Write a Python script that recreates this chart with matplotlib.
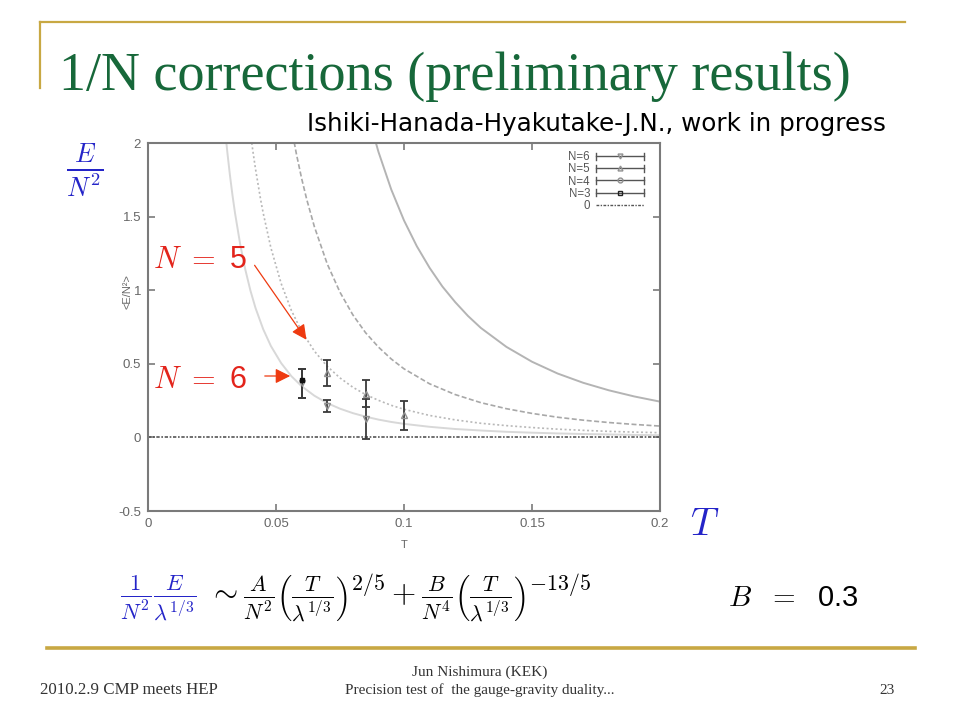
import matplotlib
matplotlib.use("Agg")
import matplotlib.pyplot as plt
from matplotlib.lines import Line2D
from matplotlib.legend_handler import HandlerBase

plt.rcParams['font.family'] = ['Liberation Sans', 'DejaVu Sans']
plt.rcParams['mathtext.fontset'] = 'cm'

# ---------------- data ----------------
# fit curves  <E/N^2> vs T
T_n6 = [0.030, 0.031, 0.032, 0.033, 0.034, 0.036, 0.038, 0.040, 0.042, 0.045, 0.048, 0.052,
        0.056, 0.060, 0.065, 0.070, 0.075, 0.080, 0.085, 0.090, 0.095, 0.100, 0.110, 0.120,
        0.130, 0.140, 0.150, 0.160, 0.170, 0.180, 0.190, 0.200]
E_n6 = [2.108, 1.936, 1.782, 1.645, 1.523, 1.313, 1.141, 0.998, 0.879, 0.735, 0.621, 0.505,
        0.416, 0.348, 0.283, 0.233, 0.195, 0.165, 0.141, 0.121, 0.105, 0.092, 0.072, 0.057,
        0.047, 0.038, 0.032, 0.027, 0.023, 0.020, 0.017, 0.015]

T_n5 = [0.038, 0.040, 0.041, 0.042, 0.044, 0.045, 0.048, 0.052, 0.056, 0.060, 0.065, 0.070,
        0.075, 0.080, 0.085, 0.090, 0.095, 0.100, 0.110, 0.120, 0.130, 0.140, 0.150, 0.160,
        0.170, 0.180, 0.190, 0.200]
E_n5 = [2.365, 2.069, 1.941, 1.823, 1.615, 1.524, 1.288, 1.046, 0.863, 0.721, 0.586, 0.483,
        0.404, 0.341, 0.291, 0.252, 0.218, 0.191, 0.149, 0.119, 0.096, 0.080, 0.067, 0.056,
        0.048, 0.041, 0.036, 0.032]

T_n4 = [0.056, 0.058, 0.060, 0.062, 0.065, 0.070, 0.075, 0.080, 0.085, 0.090, 0.095, 0.100,
        0.110, 0.120, 0.130, 0.140, 0.150, 0.160, 0.170, 0.180, 0.190, 0.200]
E_n4 = [2.106, 1.923, 1.760, 1.617, 1.431, 1.179, 0.986, 0.833, 0.711, 0.614, 0.533, 0.466,
        0.364, 0.291, 0.236, 0.195, 0.163, 0.137, 0.117, 0.101, 0.088, 0.077]

T_n3 = [0.085, 0.090, 0.095, 0.100, 0.105, 0.110, 0.115, 0.120, 0.125, 0.130, 0.140, 0.150,
        0.160, 0.170, 0.180, 0.190, 0.200]
E_n3 = [2.248, 1.941, 1.685, 1.474, 1.299, 1.152, 1.025, 0.919, 0.825, 0.744, 0.615, 0.514,
        0.434, 0.371, 0.320, 0.278, 0.243]

T_zero = [0.0, 0.2]
E_zero = [0.0, 0.0]

# Monte Carlo data points
pts_n6_T = [0.060, 0.070, 0.085]
pts_n6_E = [0.367, 0.213, 0.125]
pts_n6_err = [0.100, 0.041, 0.134]

pts_n5_T = [0.070, 0.085, 0.100]
pts_n5_E = [0.437, 0.297, 0.150]
pts_n5_err = [0.090, 0.093, 0.100]

pts_n3_T = [0.060]
pts_n3_E = [0.392]
pts_n3_err_lo = [0.125]
pts_n3_err_hi = [0.075]

x_ticks = [0, 0.05, 0.1, 0.15, 0.2]
x_ticklabels = ['0', '0.05', '0.1', '0.15', '0.2']
y_ticks = [-0.5, 0, 0.5, 1, 1.5, 2]
y_ticklabels = ['-0.5', '0', '0.5', '1', '1.5', '2']

# ---------------- figure ----------------
W, H = 960, 720
fig = plt.figure(figsize=(9.6, 7.2), dpi=100)
fig.patch.set_facecolor('white')

def fx(x):
    return x / W

def fy(y):
    return 1 - y / H

# slide decoration
gold = '#c8a843'
fig.add_artist(Line2D([fx(40), fx(905)], [fy(22), fy(22)], color=gold, lw=1.6))
fig.add_artist(Line2D([fx(40), fx(40)], [fy(22), fy(88)], color=gold, lw=1.6))
fig.add_artist(Line2D([fx(47), fx(915)], [fy(648), fy(648)], color=gold, lw=2.6))

fig.text(fx(59), fy(90), '1/N corrections (preliminary results)', family='Liberation Serif',
         fontsize=39, color='#17683a', va='baseline', ha='left')
fig.text(fx(886), fy(124), 'Ishiki-Hanada-Hyakutake-J.N., work in progress',
         family='DejaVu Sans', fontsize=17.7, color='black', va='center', ha='right')

# footer
fig.text(fx(40), fy(690), '2010.2.9 CMP meets HEP', family='Liberation Serif', fontsize=12.2,
         color='#333333', va='center', ha='left')
fig.text(fx(480), fy(672), 'Jun Nishimura (KEK)', family='Liberation Serif', fontsize=11,
         color='#333333', va='center', ha='center')
fig.text(fx(480), fy(690), 'Precision test of  the gauge-gravity duality...', family='Liberation Serif',
         fontsize=11, color='#333333', va='center', ha='center')
fig.text(fx(895), fy(690), '23', family='Liberation Serif', fontsize=11,
         color='#333333', va='center', ha='right')

# ---------------- axes ----------------
ax = fig.add_axes([fx(148), fy(511), 512 / W, 368 / H])
ax.set_xlim(0, 0.2)
ax.set_ylim(-0.5, 2)

ax.plot(T_n3, E_n3, color='#b4b4b4', lw=1.4, ls='-')
ax.plot(T_n4, E_n4, color='#a8a8a8', lw=1.2, ls=(0, (3, 1.5)))
ax.plot(T_n5, E_n5, color='#b8b8b8', lw=1.2, ls=(0, (1.2, 1.5)))
ax.plot(T_n6, E_n6, color='#d8d8d8', lw=1.4, ls='-')
ax.plot(T_zero, E_zero, color='#555555', lw=1.2, ls=(0, (2, 1, 1, 1)))

ebkw = dict(ecolor='#3a3a3a', elinewidth=1.3, capsize=3, capthick=1.3, ls='none')
ax.errorbar(pts_n6_T, pts_n6_E, yerr=pts_n6_err, marker='v', ms=4.5, mfc='none',
            mec='#909090', **ebkw)
ax.errorbar(pts_n5_T, pts_n5_E, yerr=pts_n5_err, marker='^', ms=4.5, mfc='none',
            mec='#909090', **ebkw)
ax.errorbar(pts_n3_T, pts_n3_E, yerr=[pts_n3_err_lo, pts_n3_err_hi], marker='s', ms=3,
            mfc='#111111', mec='#111111', **ebkw)

for s in ax.spines.values():
    s.set_color('#7a7a7a')
    s.set_linewidth(1.5)
ax.set_xticks(x_ticks)
ax.set_xticklabels(x_ticklabels)
ax.set_yticks(y_ticks)
ax.set_yticklabels(y_ticklabels)
ax.tick_params(direction='in', top=True, right=True, length=5, width=1.2, color='#7a7a7a',
               labelsize=9.5, labelcolor='#666666', pad=5)
ax.set_xlabel('T', fontsize=8, color='#666666')
ax.set_ylabel('<E/N²>', fontsize=8, color='#666666')
ax.xaxis.set_label_coords(0.5, -0.079)
ax.yaxis.set_label_coords(-0.031, 0.595)


class HandlerGP(HandlerBase):
    def create_artists(self, legend, orig_handle, xdescent, ydescent, width, height,
                       fontsize, trans):
        y = height / 2.0 - ydescent
        x0, x1 = -xdescent, width - xdescent
        c = '#555555'
        arts = [Line2D([x0, x1], [y, y], color=c, lw=1.0),
                Line2D([x0, x0], [y - 2.5, y + 2.5], color=c, lw=1.0),
                Line2D([x1, x1], [y - 2.5, y + 2.5], color=c, lw=1.0),
                Line2D([(x0 + x1) / 2], [y], marker=orig_handle.get_marker(), ms=orig_handle.get_markersize(),
                       mfc=orig_handle.get_markerfacecolor(), mec=orig_handle.get_markeredgecolor(),
                       ls='none')]
        for a in arts:
            a.set_transform(trans)
        return arts


h6 = Line2D([], [], marker='v', ms=3.5, mfc='none', mec='#909090')
h5 = Line2D([], [], marker='^', ms=3.5, mfc='none', mec='#909090')
h4 = Line2D([], [], marker='o', ms=3.5, mfc='none', mec='#909090')
h3 = Line2D([], [], marker='s', ms=3.5, mfc='none', mec='#222222')
h0 = Line2D([], [], color='#555555', lw=1.0, ls=(0, (2, 1, 1, 1)))
hmap = {h6: HandlerGP(), h5: HandlerGP(), h4: HandlerGP(), h3: HandlerGP()}
leg = ax.legend([h6, h5, h4, h3, h0], ['N=6', 'N=5', 'N=4', 'N=3', '0'], handler_map=hmap,
                loc='upper right', frameon=False, fontsize=8.3, markerfirst=False,
                handlelength=4.2, labelspacing=0.02, borderaxespad=0.3, handletextpad=0.5,
                bbox_to_anchor=(0.985, 1.0))
for t in leg.get_texts():
    t.set_color('#555555')

# ---------------- annotations ----------------
fig.text(fx(85), fy(170), r'$\frac{E}{N^2}$', fontsize=27, color='#2424c8', ha='center', va='center')
red = '#e3241b'
fig.text(fx(153), fy(260), r'$N\ =\ $5', fontsize=22, color=red, ha='left', va='center')
fig.text(fx(153), fy(380), r'$N\ =\ $6', fontsize=22, color=red, ha='left', va='center')
ax.annotate('', xy=(308, H - 342), xytext=(253, H - 263), xycoords='figure pixels',
            textcoords='figure pixels',
            arrowprops=dict(arrowstyle='-|>,head_length=0.9,head_width=0.45', color='#ee3a10', lw=0.9))
ax.annotate('', xy=(293, H - 376), xytext=(262, H - 376), xycoords='figure pixels',
            textcoords='figure pixels',
            arrowprops=dict(arrowstyle='-|>,head_length=0.9,head_width=0.45', color='#ee3a10', lw=0.9))
fig.text(fx(705), fy(525), r'$T$', fontsize=28, color='#2424c8', ha='center', va='center')

# formula
fig.text(fx(120), fy(598), r'$\frac{1}{N^2}\frac{E}{\lambda^{1/3}}$', fontsize=23,
         color='#2424c8', ha='left', va='center')
fig.text(fx(208), fy(598),
         r'$\sim\frac{A}{N^2}\left(\frac{T}{\lambda^{1/3}}\right)^{2/5}+\frac{B}{N^4}\left(\frac{T}{\lambda^{1/3}}\right)^{-13/5}$',
         fontsize=22.5, color='black', ha='left', va='center')
fig.text(fx(728), fy(598), r'$B\ \ =\ \ $0.3', fontsize=21, color='black', ha='left', va='center')

fig.savefig('out.png', dpi=100, facecolor='white')
